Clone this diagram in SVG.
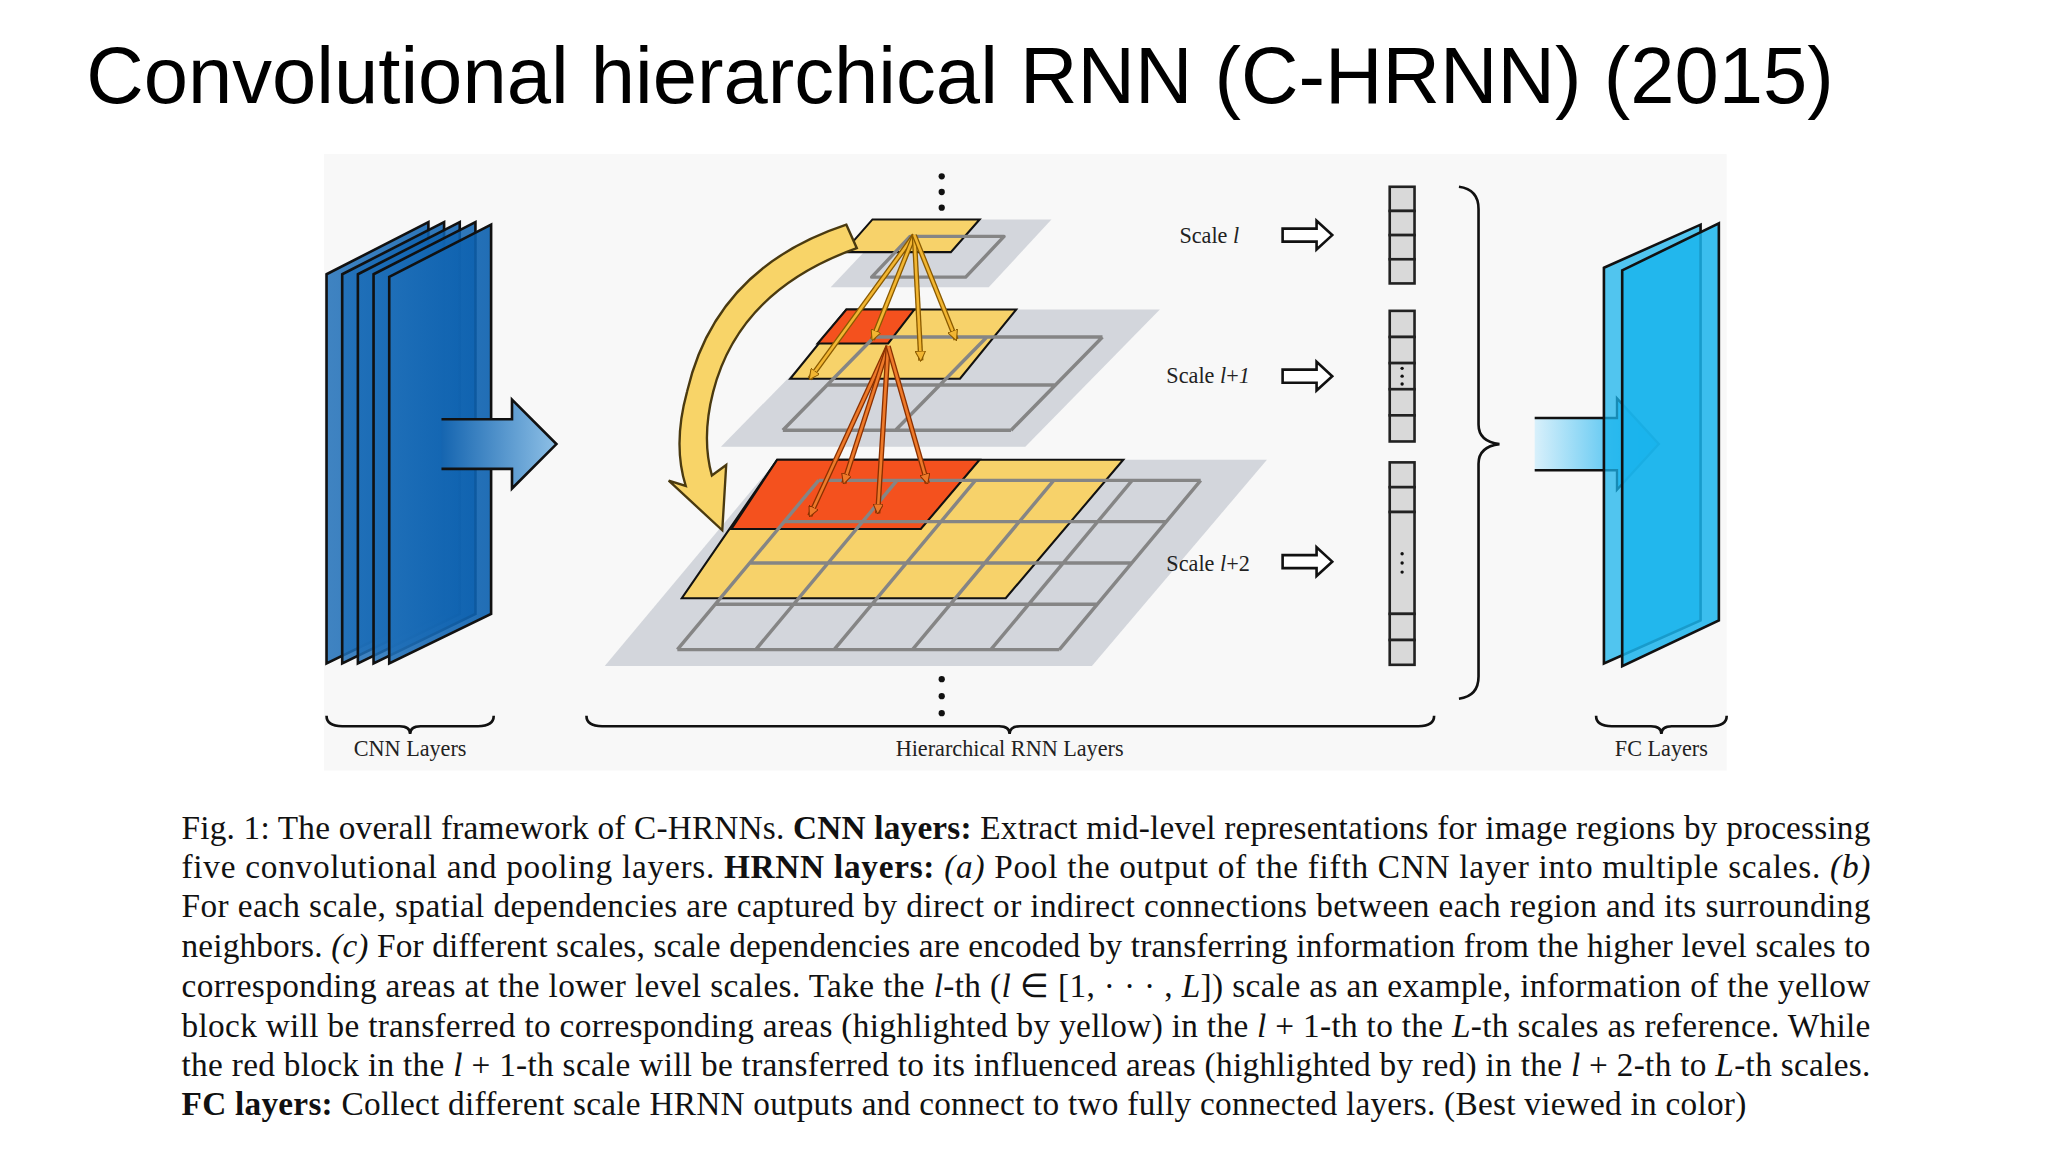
<svg xmlns="http://www.w3.org/2000/svg" width="2048" height="1152" viewBox="0 0 2048 1152">
<defs>
<linearGradient id="cnnG" x1="0" x2="1" y1="0" y2="0"><stop offset="0" stop-color="#1f6fb8"/><stop offset="1" stop-color="#0a5fae"/></linearGradient>
<linearGradient id="arrG" x1="0" x2="1"><stop offset="0" stop-color="#1565b0"/><stop offset="1" stop-color="#8ec0e6"/></linearGradient>
<linearGradient id="fcArr" x1="0" x2="1"><stop offset="0" stop-color="#d8f0fb"/><stop offset="1" stop-color="#18b0ec"/></linearGradient>
<marker id="ga" viewBox="0 0 10 10" refX="9" refY="5" markerWidth="4" markerHeight="4" orient="auto"><path d="M0,0 L10,5 L0,10 z" fill="#f2b632" stroke="#8a5a00" stroke-width="1"/></marker>
<marker id="oa" viewBox="0 0 10 10" refX="9" refY="5" markerWidth="4" markerHeight="4" orient="auto"><path d="M0,0 L10,5 L0,10 z" fill="#ee7a2a" stroke="#8a3000" stroke-width="1"/></marker>
</defs>
<style>
.gp{fill:#c9cdd4;opacity:0.8}
.yl{fill:#f7d26a;stroke:#111;stroke-width:1.6}
.rd{fill:#f4511e;stroke:#111;stroke-width:1.6}
.gl{stroke:#858585;stroke-width:2.6;fill:none;stroke-linejoin:round}
.pl{stroke:#111;stroke-width:2}
.cell{fill:#d9d9d9;stroke:#222;stroke-width:2}
.lbl{font-family:"Liberation Serif",serif;font-size:17px;fill:#222}
.cap{font-family:"Liberation Serif",serif;font-size:25.5px;fill:#111}
.br{fill:none;stroke:#111;stroke-width:2}
.ga{stroke:#8a5a00;stroke-width:4}
.gi{stroke:#f2b632;stroke-width:2}
.oa{stroke:#8a3000;stroke-width:4}
.oi{stroke:#ee7a2a;stroke-width:2}
</style>
<rect width="2048" height="1152" fill="#fff"/>
<g transform="scale(1.306122)">
<text x="66" y="79" font-family="Liberation Sans, Arial, sans-serif" font-size="61" fill="#000" textLength="1338" lengthAdjust="spacingAndGlyphs">Convolutional hierarchical RNN (C-HRNN) (2015)</text>
<rect x="248" y="118" width="1074" height="472" fill="#f8f8f8"/>

<g id="cnn">
<polygon class="pl" fill="url(#cnnG)" fill-opacity="0.85" points="250,210 328,170 328,470 250,508"/>
<polygon class="pl" fill="url(#cnnG)" fill-opacity="0.85" points="262,210 340,170 340,470 262,508"/>
<polygon class="pl" fill="url(#cnnG)" fill-opacity="0.85" points="274,210 352,170 352,470 274,508"/>
<polygon class="pl" fill="url(#cnnG)" fill-opacity="0.85" points="286,210 364,170 364,470 286,508"/>
<polygon class="pl" fill="url(#cnnG)" fill-opacity="0.9" points="298,212 376,172 376,470 298,508"/>
<path d="M338,321 H392 V306 L426,340 L392,374 V359 H338" fill="url(#arrG)" stroke="#111" stroke-width="2"/>
</g>

<g id="plane3">
<polygon class="gp" points="595,352 970,352 836,510 463,510"/>
<polygon class="yl" points="595,352 860,352 770,458 522,458"/>
<polygon class="rd" points="595,352 750,352 705,405 560,405"/>
<path class="gl" d="M626.8,367.8 H919.3 M600.4,399.4 H892.9 M574,431 H866.5 M547.6,462.6 H840.1 M518.6,497.4 H811.1
M626.8,367.8 L518.6,497.4 M686.8,367.8 L578.6,497.4 M746.8,367.8 L638.6,497.4 M806.8,367.8 L698.6,497.4 M866.8,367.8 L758.6,497.4 M919.3,367.8 L811.1,497.4"/>
</g>

<g id="plane2">
<polygon class="gp" points="655,237 888,237 785,342 552,342"/>
<polygon class="yl" points="648,237 778,237 735,290 605,290"/>
<polygon class="rd" points="648,237 700,237 680,263 626,263"/>
<path class="gl" d="M669.35,258 H844.1 M633.3,294.75 H808.05 M599.35,329.4 H774.1 M669.35,258 L599.35,329.4 M755.6,258 L685.6,329.4 M844.1,258 L774.1,329.4"/>
</g>

<g id="plane1">
<polygon class="gp" points="685,168 805,168 757,220 636,220"/>
<polygon class="yl" points="668,168 750,168 728,193 646,193"/>
<polygon class="gl" points="696.75,181 768.75,181 739.35,212.2 667.35,212.2"/>
</g>

<g id="transfers">
<g fill="none">
<path class="ga" d="M700,180 L620,290"/><path class="gi" d="M700,180 L620,290" marker-end="url(#ga)"/>
<path class="ga" d="M700,180 L668,260"/><path class="gi" d="M700,180 L668,260" marker-end="url(#ga)"/>
<path class="ga" d="M700,180 L705,276"/><path class="gi" d="M700,180 L705,276" marker-end="url(#ga)"/>
<path class="ga" d="M700,180 L732,260"/><path class="gi" d="M700,180 L732,260" marker-end="url(#ga)"/>
<path class="oa" d="M680,265 L620,395"/><path class="oi" d="M680,265 L620,395" marker-end="url(#oa)"/>
<path class="oa" d="M680,265 L646,370"/><path class="oi" d="M680,265 L646,370" marker-end="url(#oa)"/>
<path class="oa" d="M680,265 L672,393"/><path class="oi" d="M680,265 L672,393" marker-end="url(#oa)"/>
<path class="oa" d="M680,265 L710,370"/><path class="oi" d="M680,265 L710,370" marker-end="url(#oa)"/>
</g>
<path d="M648,172 Q548,205 526,300 Q515,340 525,372 L512,368 L553,406 L556,356 L545,364 Q537,335 546,300 Q566,222 656,190 Z" fill="#f8d468" stroke="#4a3a10" stroke-width="1.8"/>
</g>

<g id="dots" fill="#111">
<circle cx="721" cy="135" r="2.4"/><circle cx="721" cy="147" r="2.4"/><circle cx="721" cy="159" r="2.4"/>
<circle cx="721" cy="520" r="2.4"/><circle cx="721" cy="533" r="2.4"/><circle cx="721" cy="546" r="2.4"/>
</g>

<g id="scales">
<text class="lbl" x="903" y="186">Scale <tspan font-style="italic">l</tspan></text>
<text class="lbl" x="893" y="293">Scale <tspan font-style="italic">l</tspan>+<tspan font-style="italic">1</tspan></text>
<text class="lbl" x="893" y="437">Scale <tspan font-style="italic">l</tspan>+2</text>
<g fill="#fff" stroke="#111" stroke-width="2">
<path d="M982,175 H1008 V169 L1020,180 L1008,191 V185 H982 Z"/>
<path d="M982,283 H1008 V277 L1020,288 L1008,299 V293 H982 Z"/>
<path d="M982,425 H1008 V419 L1020,430 L1008,441 V435 H982 Z"/>
</g>
</g>

<g id="vectors">
<rect class="cell" x="1064" y="143" width="19" height="18.5"/><rect class="cell" x="1064" y="161.5" width="19" height="18.5"/><rect class="cell" x="1064" y="180" width="19" height="18.5"/><rect class="cell" x="1064" y="198.5" width="19" height="18.5"/>
<rect class="cell" x="1064" y="238" width="19" height="20"/><rect class="cell" x="1064" y="258" width="19" height="20"/><rect class="cell" x="1064" y="278" width="19" height="20"/><rect class="cell" x="1064" y="298" width="19" height="20"/><rect class="cell" x="1064" y="318" width="19" height="20"/>
<rect class="cell" x="1064" y="354" width="19" height="19"/><rect class="cell" x="1064" y="373" width="19" height="19"/><rect class="cell" x="1064" y="392" width="19" height="78"/><rect class="cell" x="1064" y="470" width="19" height="20"/><rect class="cell" x="1064" y="490" width="19" height="19"/>
<g fill="#111"><circle cx="1073.5" cy="282" r="1.3"/><circle cx="1073.5" cy="288" r="1.3"/><circle cx="1073.5" cy="294" r="1.3"/>
<circle cx="1073.5" cy="424" r="1.3"/><circle cx="1073.5" cy="431" r="1.3"/><circle cx="1073.5" cy="438" r="1.3"/></g>
<path class="br" d="M1117,143 Q1132,145 1132,160 V325 Q1132,338 1148,340 Q1132,342 1132,355 V518 Q1132,533 1117,535"/>
</g>

<g id="fc">
<path d="M1175,320 H1238 V305 L1270,340 L1238,375 V360 H1175" fill="url(#fcArr)" stroke="#111" stroke-width="1.8"/>
<polygon class="pl" fill="#1ab4ec" fill-opacity="0.75" points="1228,205 1302,172 1302,475 1228,508"/>
<polygon class="pl" fill="#1ab4ec" fill-opacity="0.85" points="1242,207 1316,171 1316,475 1242,510"/>
</g>

<g id="braces">
<path class="br" d="M250,548 Q250,556 262,556 H306 Q314,556 314,562 Q314,556 322,556 H366 Q378,556 378,548"/>
<path class="br" d="M449,548 Q449,556 461,556 H765 Q773,556 773,562 Q773,556 781,556 H1086 Q1098,556 1098,548"/>
<path class="br" d="M1222,548 Q1222,556 1234,556 H1264 Q1272,556 1272,562 Q1272,556 1280,556 H1310 Q1322,556 1322,548"/>
<text class="lbl" x="314" y="579" text-anchor="middle">CNN Layers</text>
<text class="lbl" x="773" y="579" text-anchor="middle">Hierarchical RNN Layers</text>
<text class="lbl" x="1272" y="579" text-anchor="middle">FC Layers</text>
</g>

<g id="caption">
<text class="cap" x="139" y="642" textLength="1293" lengthAdjust="spacing">Fig. 1: The overall framework of C-HRNNs. <tspan font-weight="bold">CNN layers:</tspan> Extract mid-level representations for image regions by processing</text>
<text class="cap" x="139" y="672" textLength="1293" lengthAdjust="spacing">five convolutional and pooling layers. <tspan font-weight="bold">HRNN layers:</tspan> <tspan font-style="italic">(a)</tspan> Pool the output of the fifth CNN layer into multiple scales. <tspan font-style="italic">(b)</tspan></text>
<text class="cap" x="139" y="702" textLength="1293" lengthAdjust="spacing">For each scale, spatial dependencies are captured by direct or indirect connections between each region and its surrounding</text>
<text class="cap" x="139" y="733" textLength="1293" lengthAdjust="spacing">neighbors. <tspan font-style="italic">(c)</tspan> For different scales, scale dependencies are encoded by transferring information from the higher level scales to</text>
<text class="cap" x="139" y="763" textLength="1293" lengthAdjust="spacing">corresponding areas at the lower level scales. Take the <tspan font-style="italic">l</tspan>-th (<tspan font-style="italic">l</tspan> ∈ [1, · · · , <tspan font-style="italic">L</tspan>]) scale as an example, information of the yellow</text>
<text class="cap" x="139" y="794" textLength="1293" lengthAdjust="spacing">block will be transferred to corresponding areas (highlighted by yellow) in the <tspan font-style="italic">l</tspan> + 1-th to the <tspan font-style="italic">L</tspan>-th scales as reference. While</text>
<text class="cap" x="139" y="824" textLength="1293" lengthAdjust="spacing">the red block in the <tspan font-style="italic">l</tspan> + 1-th scale will be transferred to its influenced areas (highlighted by red) in the <tspan font-style="italic">l</tspan> + 2-th to <tspan font-style="italic">L</tspan>-th scales.</text>
<text class="cap" x="139" y="854" textLength="1198" lengthAdjust="spacing"><tspan font-weight="bold">FC layers:</tspan> Collect different scale HRNN outputs and connect to two fully connected layers. (Best viewed in color)</text>
</g>
</g>
</svg>
